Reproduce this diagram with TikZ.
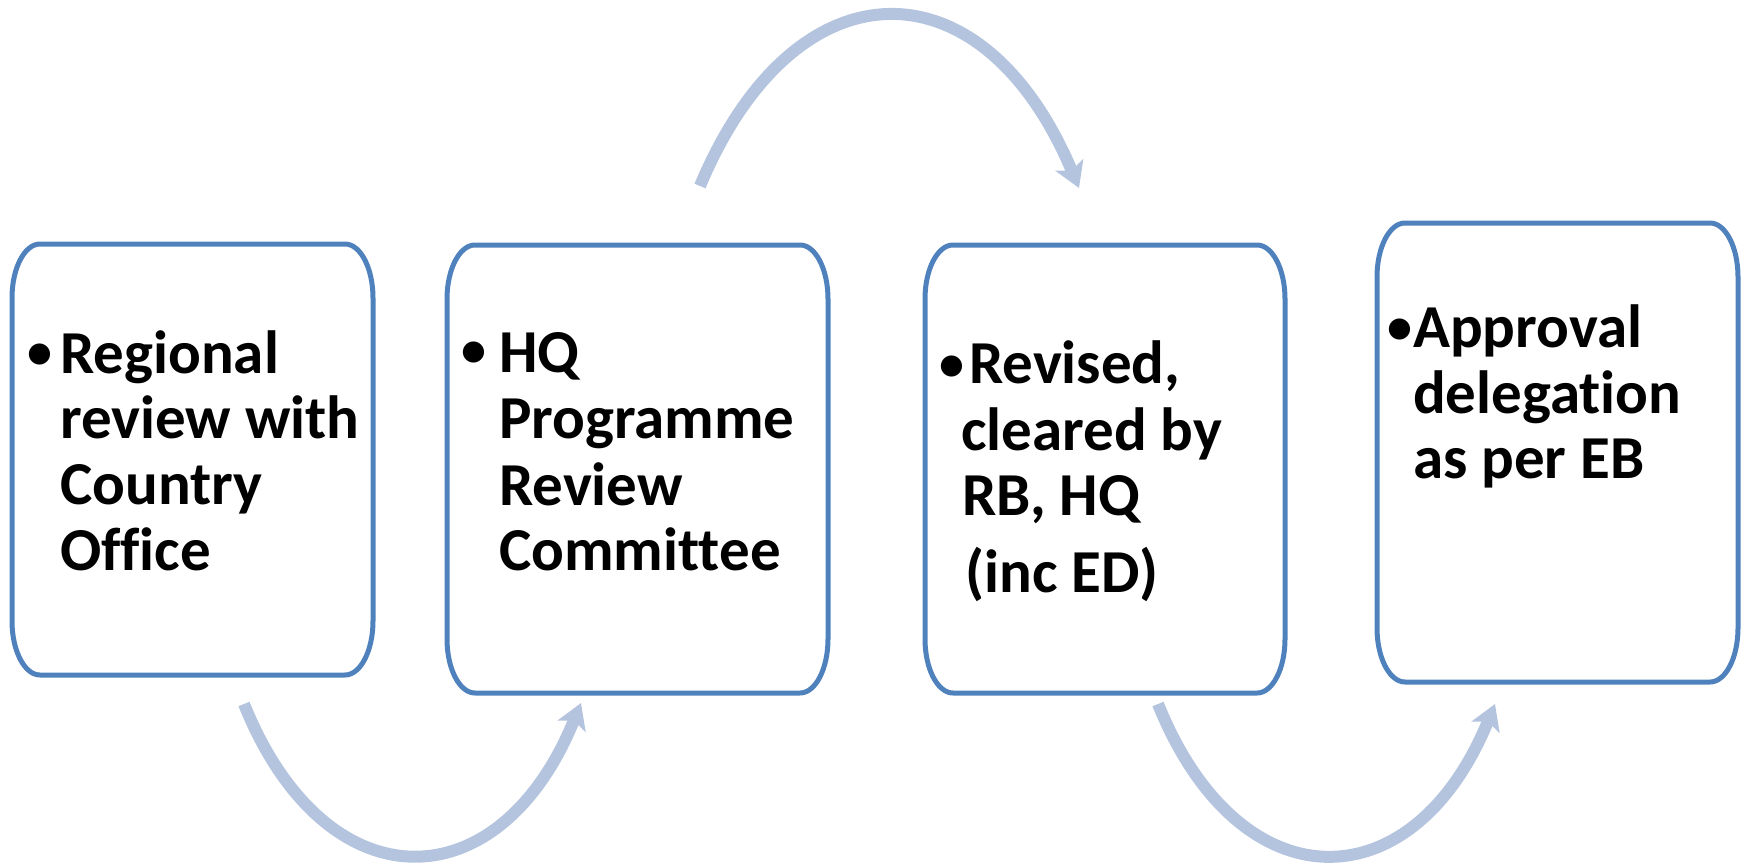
\documentclass[tikz,border=0pt]{standalone}
\usepackage{fontspec}
\setmainfont{Carlito}[Ligatures=NoCommon]
\usetikzlibrary{arrows.meta,calc}
\definecolor{boxblue}{RGB}{79,129,189}
\definecolor{arrowblue}{RGB}{180,196,222}
\tikzset{
 card/.style={rectangle,draw=none,inner sep=0pt,outer sep=0pt},
 txt/.style={anchor=base west,inner sep=0pt,font=\fontsize{61}{66}\selectfont\bfseries},
 bul/.style={anchor=base,inner sep=0pt,font=\fontsize{50}{60}\selectfont\bfseries},
 flow/.style={draw=arrowblue,line width=12pt,-{Stealth[length=25pt,width=30pt,inset=6pt]}},
 boxline/.style={draw=boxblue,line width=5pt}
}
\newcommand\ebox[1]{\draw[boxline] ([yshift=-54pt]#1.north west) arc[start angle=180,end angle=90,x radius=28pt,y radius=54pt] -- ([xshift=-28pt]#1.north east) arc[start angle=90,end angle=0,x radius=28pt,y radius=54pt] -- ([yshift=54pt]#1.south east) arc[start angle=0,end angle=-90,x radius=28pt,y radius=54pt] -- ([xshift=28pt]#1.south west) arc[start angle=270,end angle=180,x radius=28pt,y radius=54pt] -- cycle;}
\begin{document}
\begin{tikzpicture}[x=1pt,y=-1pt]
\useasboundingbox (0,0) rectangle (1744,862);
% boxes
\node[card,minimum width=361pt,minimum height=431pt] (b1) at (192.5,459.5) {};
\node[card,minimum width=381pt,minimum height=448pt] (b2) at (637.5,469) {};
\node[card,minimum width=360pt,minimum height=448pt] (b3) at (1105,469) {};
\node[card,minimum width=361pt,minimum height=459pt] (b4) at (1557.5,452.5) {};
\ebox{b1}\ebox{b2}\ebox{b3}\ebox{b4}
% box 1 text
\node[bul] (u1) at (40,368.5) {•};
\node[txt] (t1a) at (60,373) {Regional};
\node[txt] (t1b) at (60,438) {review with};
\node[txt] (t1c) at (60,504) {Country};
\node[txt] (t1d) at (60,570) {Office};
% box 2 text
\node[bul] (u2) at (474,366.5) {•};
\node[txt] (t2a) at (499,372) {HQ};
\node[txt] (t2b) at (499,438) {Programme};
\node[txt] (t2c) at (499,505) {Review};
\node[txt] (t2d) at (499,570) {Committee};
% box 3 text
\node[bul] (u3) at (952,380.5) {•};
\node[txt] (t3a) at (969,383) {Revised,};
\node[txt] (t3b) at (961,450) {cleared by};
\node[txt] (t3c) at (962,515) {RB, HQ};
\node[txt] (t3d) at (965,592) {(inc ED)};
% box 4 text
\node[bul] (u4) at (1400,343.5) {•};
\node[txt] (t4a) at (1413,347) {Approval};
\node[txt] (t4b) at (1413,413) {delegation};
\node[txt] (t4c) at (1413,478) {as per EB};
% arrows
\coordinate (a1s) at (244,704);
\coordinate (a1e) at (581,703);
\coordinate (a2s) at (700,186);
\coordinate (a2e) at (1079,188);
\coordinate (a3s) at (1158,704);
\coordinate (a3e) at (1495,704);
\draw[flow] (a1s) .. controls (325,905) and (499,905) .. (a1e);
\draw[flow] (a2s) .. controls (795,-41) and (983,-41) .. (a2e);
\draw[flow] (a3s) .. controls (1239,905) and (1413,905) .. (a3e);
\end{tikzpicture}
\end{document}
